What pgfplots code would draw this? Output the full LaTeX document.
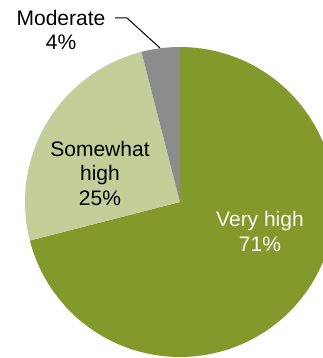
\documentclass[border=0pt]{standalone}
\usepackage{pgfplots}
\usepackage{pgfplotstable}
\pgfplotsset{compat=1.18}
\usepackage{fontspec}
\setmainfont{Liberation Sans}
\definecolor{vhigh}{RGB}{132,153,44}
\definecolor{shigh}{RGB}{196,206,153}
\definecolor{moder}{RGB}{140,140,140}
\pgfplotstableread{
label value
VeryHigh 71
SomewhatHigh 25
Moderate 4
}\piedata
\pgfplotstablegetelem{0}{value}\of\piedata \pgfmathsetmacro\vA{\pgfplotsretval}%
\pgfplotstablegetelem{1}{value}\of\piedata \pgfmathsetmacro\vB{\pgfplotsretval}%
\pgfplotstablegetelem{2}{value}\of\piedata \pgfmathsetmacro\vC{\pgfplotsretval}%
\pgfmathsetmacro\aA{3.6*\vA}%
\pgfmathsetmacro\aB{3.6*(\vA+\vB)}%
\pgfmathsetmacro\aC{3.6*(\vA+\vB+\vC)}%
\begin{document}%
\begin{tikzpicture}
\begin{axis}[
  x=1pt, y=1pt,
  xmin=0, xmax=323, ymin=0, ymax=358,
  enlargelimits=false,
  y dir=reverse,
  hide axis, clip=true,
  scale only axis,
]
\addplot[fill=vhigh, draw=none, domain=0:\aA, samples=120, variable=\t]
  ({180+155*sin(\t)},{202-155*cos(\t)}) -- (axis cs:180,202) -- cycle;
\addplot[fill=shigh, draw=none, domain=\aA:\aB, samples=60, variable=\t]
  ({180+155*sin(\t)},{202-155*cos(\t)}) -- (axis cs:180,202) -- cycle;
\addplot[fill=moder, draw=none, domain=\aB:\aC, samples=20, variable=\t]
  ({180+155*sin(\t)},{202-155*cos(\t)}) -- (axis cs:180,202) -- cycle;
\node[align=center, text=white!97!black, font=\fontsize{21}{25}\selectfont] at (axis cs:260,231) {Very high\\71\%};
\node[align=center, text=black, font=\fontsize{21}{24.5}\selectfont] at (axis cs:100,173) {Somewhat\\high\\25\%};
\node[align=center, text=black, font=\fontsize{21}{24}\selectfont] at (axis cs:61,30) {Moderate\\4\%};
\draw[black, line width=1pt] (axis cs:115,18) -- (axis cs:127,18) -- (axis cs:160,48);
\coordinate (bl) at (axis cs:0,358);
\coordinate (tr) at (axis cs:323,0);
\end{axis}
\pgfresetboundingbox
\path[use as bounding box] (bl) rectangle (tr);
\end{tikzpicture}%
\end{document}
